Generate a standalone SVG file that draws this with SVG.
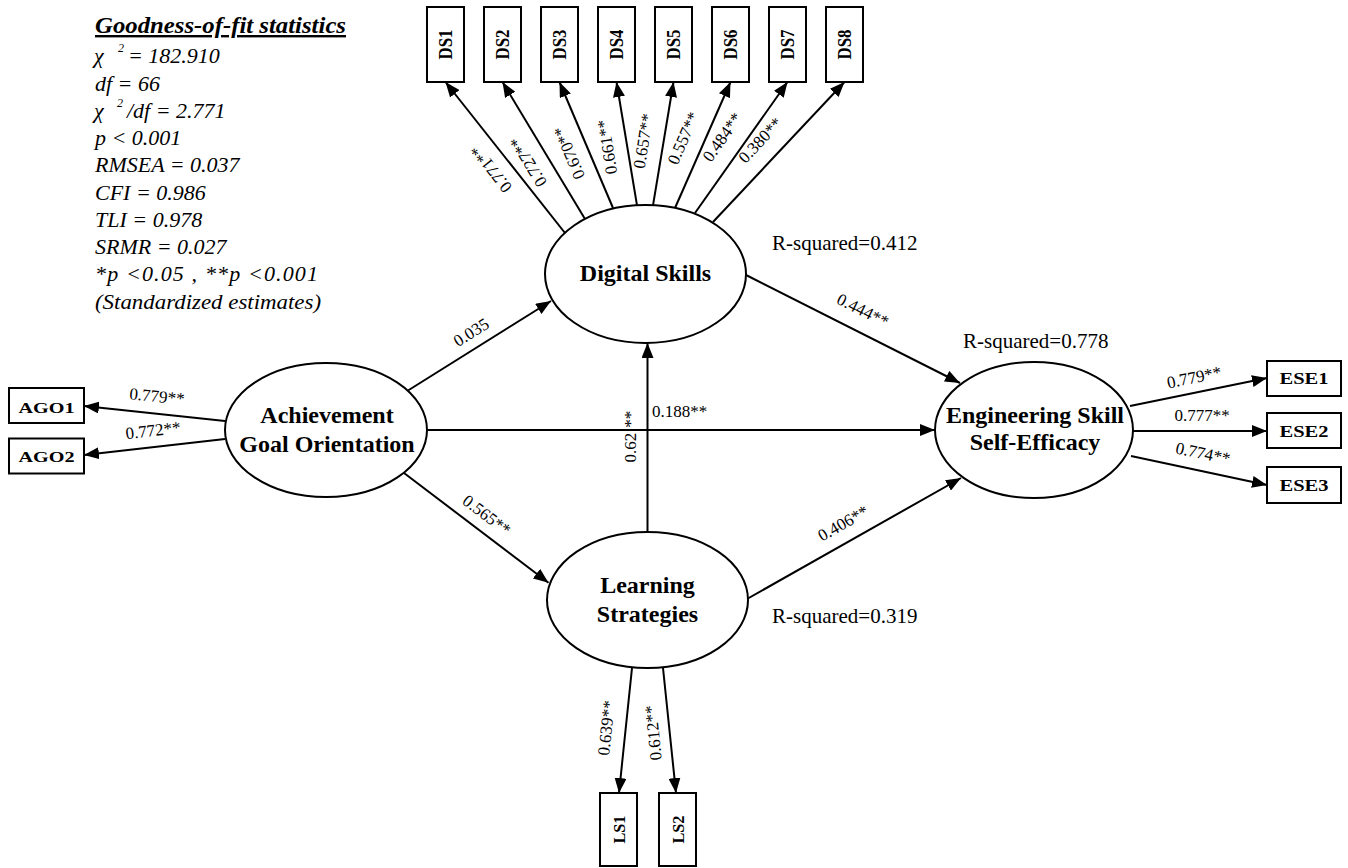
<svg xmlns="http://www.w3.org/2000/svg" width="1348" height="868" viewBox="0 0 1348 868">
<defs>
<marker id="arr" markerWidth="15" markerHeight="12" refX="15" refY="6" orient="auto" markerUnits="userSpaceOnUse">
<path d="M0,0 L15,6 L0,12 z" fill="#000"/>
</marker>
<style>
.lat{fill:#fff;stroke:#000;stroke-width:2}
.box{fill:#fff;stroke:#000;stroke-width:2}
.ln{fill:none;stroke:#000;stroke-width:2;marker-end:url(#arr)}
.nt{font-family:"Liberation Serif","Times New Roman",serif;font-weight:bold;font-size:24px;text-anchor:middle;fill:#000}
.bt{font-family:"Liberation Serif","Times New Roman",serif;font-weight:bold;text-anchor:middle;fill:#000}
.lb{font-family:"Liberation Serif","Times New Roman",serif;font-size:17px;text-anchor:middle;fill:#000}
.rs{font-family:"Liberation Serif","Times New Roman",serif;font-size:21px;fill:#000}
.st{font-family:"Liberation Serif","Times New Roman",serif;font-style:italic;font-size:22px;fill:#000}
.ttl{font-family:"Liberation Serif","Times New Roman",serif;font-style:italic;font-weight:bold;font-size:24px;text-decoration:underline;fill:#000}
.sup{font-size:12px}
</style>
</defs>
<rect width="1348" height="868" fill="#fff"/>

<g id="stats">
<text class="ttl" x="95" y="33" textLength="251" lengthAdjust="spacingAndGlyphs">Goodness-of-fit statistics</text>
<text class="st" y="63"><tspan x="94">χ</tspan><tspan class="sup" x="118" y="52">2</tspan><tspan x="128" y="63">= 182.910</tspan></text>
<text class="st" x="95" y="91">df = 66</text>
<text class="st" y="118"><tspan x="94">χ</tspan><tspan class="sup" x="117" y="107">2</tspan><tspan x="127" y="118">/df = 2.771</tspan></text>
<text class="st" x="95" y="145">p &lt; 0.001</text>
<text class="st" x="95" y="172">RMSEA = 0.037</text>
<text class="st" x="95" y="200">CFI = 0.986</text>
<text class="st" x="95" y="227">TLI = 0.978</text>
<text class="st" x="95" y="254">SRMR = 0.027</text>
<text class="st" x="95" y="281" textLength="223" lengthAdjust="spacing">*p &lt;0.05 , **p &lt;0.001</text>
<text class="st" x="95" y="309" textLength="226" lengthAdjust="spacingAndGlyphs">(Standardized estimates)</text>
</g>

<g id="connectors">
<path class="ln" d="M565,233 L445.5,82"/>
<path class="ln" d="M585,219 L502.5,82"/>
<path class="ln" d="M613,208 L559.5,82"/>
<path class="ln" d="M637,205.3 L616.5,82"/>
<path class="ln" d="M653,205.3 L673.5,82"/>
<path class="ln" d="M675,208 L730.5,82"/>
<path class="ln" d="M695,213 L787.5,82"/>
<path class="ln" d="M713,222 L844.5,82"/>
<path class="ln" d="M408,390.5 L551,301"/>
<path class="ln" d="M404,473 L548.5,582.7"/>
<path class="ln" d="M427,430 L935,430"/>
<path class="ln" d="M647.5,532 L647.5,343"/>
<path class="ln" d="M746,275 L960,383"/>
<path class="ln" d="M747,599 L961,478"/>
<path class="ln" d="M225,421 L84,406"/>
<path class="ln" d="M225,439 L84,455"/>
<path class="ln" d="M1130,406 L1267,378"/>
<path class="ln" d="M1133,431 L1267,431"/>
<path class="ln" d="M1131,456 L1267,485"/>
<path class="ln" d="M632,668 L619,793"/>
<path class="ln" d="M663,668 L676,793"/>
</g>

<g id="labels">
<text class="lb" transform="translate(491,169) rotate(-128.4)" y="6">0.771**</text>
<text class="lb" transform="translate(528,162) rotate(-121.1)" y="6">0.727**</text>
<text class="lb" transform="translate(569,153) rotate(-112.8)" y="6">0.670**</text>
<text class="lb" transform="translate(607,147) rotate(-99.2)" y="6">0.661**</text>
<text class="lb" transform="translate(643,141) rotate(-81)" y="6">0.657**</text>
<text class="lb" transform="translate(683,138) rotate(-66.4)" y="6">0.557**</text>
<text class="lb" transform="translate(722,137) rotate(-54.9)" y="6">0.484**</text>
<text class="lb" transform="translate(760,140) rotate(-46.8)" y="6">0.380**</text>
<text class="lb" transform="translate(471,332) rotate(-32.3)" y="6">0.035</text>
<text class="lb" transform="translate(487,515) rotate(37.2)" y="6">0.565**</text>
<text class="lb" x="652" y="417" style="text-anchor:start">0.188**</text>
<text class="lb" transform="translate(629.5,436.5) rotate(-90)" y="6">0.62<tspan dx="5">**</tspan></text>
<text class="lb" transform="translate(863,310) rotate(26.7)" y="6">0.444**</text>
<text class="lb" transform="translate(843,523) rotate(-29.5)" y="6">0.406**</text>
<text class="lb" transform="translate(157,396) rotate(5.7)" y="6">0.779**</text>
<text class="lb" transform="translate(153,430) rotate(-6.6)" y="6">0.772**</text>
<text class="lb" transform="translate(1194,377) rotate(-11.5)" y="6">0.779**</text>
<text class="lb" transform="translate(1202,415)" y="6">0.777**</text>
<text class="lb" transform="translate(1203,453) rotate(12)" y="6">0.774**</text>
<text class="lb" transform="translate(606,728) rotate(-84)" y="6">0.639**</text>
<text class="lb" transform="translate(653,733) rotate(-96)" y="6">0.612**</text>
<text class="rs" x="772" y="250">R-squared=0.412</text>
<text class="rs" x="963" y="348">R-squared=0.778</text>
<text class="rs" x="772" y="623">R-squared=0.319</text>
</g>

<g id="node-DS">
<ellipse class="lat" cx="645.5" cy="274" rx="100.5" ry="69"/>
<text class="nt" x="645.5" y="281">Digital Skills</text>
</g>
<g id="node-AGO">
<ellipse class="lat" cx="326" cy="430" rx="101" ry="67"/>
<text class="nt" x="327" y="423">Achievement</text>
<text class="nt" x="327" y="452">Goal Orientation</text>
</g>
<g id="node-ESE">
<ellipse class="lat" cx="1034" cy="430" rx="99" ry="68"/>
<text class="nt" x="1035" y="423">Engineering Skill</text>
<text class="nt" x="1035" y="450">Self-Efficacy</text>
</g>
<g id="node-LS">
<ellipse class="lat" cx="647.5" cy="600" rx="100.5" ry="68"/>
<text class="nt" x="647.5" y="593">Learning</text>
<text class="nt" x="647.5" y="622">Strategies</text>
</g>

<g id="node-DS1"><rect class="box" x="427" y="7" width="37" height="75"/><text class="bt" font-size="19" transform="translate(445.5,44.5) rotate(-90)" y="6.5" textLength="30" lengthAdjust="spacingAndGlyphs">DS1</text></g>
<g id="node-DS2"><rect class="box" x="484" y="7" width="37" height="75"/><text class="bt" font-size="19" transform="translate(502.5,44.5) rotate(-90)" y="6.5" textLength="30" lengthAdjust="spacingAndGlyphs">DS2</text></g>
<g id="node-DS3"><rect class="box" x="541" y="7" width="37" height="75"/><text class="bt" font-size="19" transform="translate(559.5,44.5) rotate(-90)" y="6.5" textLength="30" lengthAdjust="spacingAndGlyphs">DS3</text></g>
<g id="node-DS4"><rect class="box" x="598" y="7" width="37" height="75"/><text class="bt" font-size="19" transform="translate(616.5,44.5) rotate(-90)" y="6.5" textLength="30" lengthAdjust="spacingAndGlyphs">DS4</text></g>
<g id="node-DS5"><rect class="box" x="655" y="7" width="37" height="75"/><text class="bt" font-size="19" transform="translate(673.5,44.5) rotate(-90)" y="6.5" textLength="30" lengthAdjust="spacingAndGlyphs">DS5</text></g>
<g id="node-DS6"><rect class="box" x="712" y="7" width="37" height="75"/><text class="bt" font-size="19" transform="translate(730.5,44.5) rotate(-90)" y="6.5" textLength="30" lengthAdjust="spacingAndGlyphs">DS6</text></g>
<g id="node-DS7"><rect class="box" x="769" y="7" width="37" height="75"/><text class="bt" font-size="19" transform="translate(787.5,44.5) rotate(-90)" y="6.5" textLength="30" lengthAdjust="spacingAndGlyphs">DS7</text></g>
<g id="node-DS8"><rect class="box" x="826" y="7" width="37" height="75"/><text class="bt" font-size="19" transform="translate(844.5,44.5) rotate(-90)" y="6.5" textLength="30" lengthAdjust="spacingAndGlyphs">DS8</text></g>

<g id="node-AGO1"><rect class="box" x="9" y="388" width="75" height="35"/><text class="bt" font-size="15" x="46.5" y="412.5" textLength="56" lengthAdjust="spacingAndGlyphs">AGO1</text></g>
<g id="node-AGO2"><rect class="box" x="9" y="438.5" width="75" height="35"/><text class="bt" font-size="15" x="46.5" y="462" textLength="56" lengthAdjust="spacingAndGlyphs">AGO2</text></g>

<g id="node-ESE1"><rect class="box" x="1267" y="361" width="74" height="35"/><text class="bt" font-size="16" x="1304" y="384" textLength="49" lengthAdjust="spacingAndGlyphs">ESE1</text></g>
<g id="node-ESE2"><rect class="box" x="1267" y="413" width="74" height="35"/><text class="bt" font-size="16" x="1304" y="437" textLength="49" lengthAdjust="spacingAndGlyphs">ESE2</text></g>
<g id="node-ESE3"><rect class="box" x="1267" y="467" width="74" height="36"/><text class="bt" font-size="16" x="1304" y="490.5" textLength="49" lengthAdjust="spacingAndGlyphs">ESE3</text></g>

<g id="node-LS1"><rect class="box" x="600" y="793" width="37" height="73"/><text class="bt" font-size="17" transform="translate(618.5,829.5) rotate(-90)" y="6" textLength="28" lengthAdjust="spacingAndGlyphs">LS1</text></g>
<g id="node-LS2"><rect class="box" x="659" y="793" width="37" height="73"/><text class="bt" font-size="17" transform="translate(677.5,829.5) rotate(-90)" y="6" textLength="28" lengthAdjust="spacingAndGlyphs">LS2</text></g>
</svg>
